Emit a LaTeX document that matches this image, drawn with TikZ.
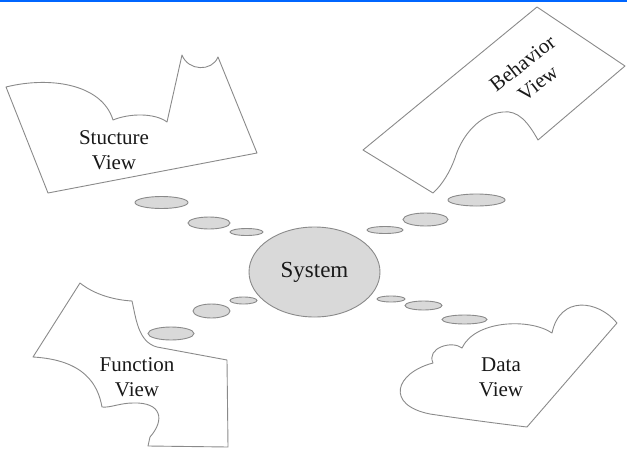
\documentclass[tikz,border=0pt]{standalone}
\usepackage{fontspec}
\setmainfont{Liberation Serif}
\usetikzlibrary{shapes.geometric}
\definecolor{edgegray}{HTML}{8A8A8A}
\definecolor{bubblefill}{HTML}{D9D9D9}
\definecolor{topblue}{HTML}{0066FF}
\tikzset{
  viewshape/.style={draw=edgegray, line width=0.9pt, line join=round},
  viewtext/.style={align=center, font=\fontsize{21}{25}\selectfont, text=black!90},
  bubble/.style={ellipse, draw=edgegray, fill=bubblefill, line width=0.9pt, inner sep=0pt},
}
\newcommand{\bub}[5]{\node[bubble, minimum width=#4pt, minimum height=#5pt] (#1) at (#2,#3) {};}
\begin{document}
\begin{tikzpicture}[x=1pt, y=-1pt]
  \useasboundingbox (0,0) rectangle (627,450);
  % top rule
  \fill[topblue] (0,0) rectangle (627,1.6);

  % Structure view
  \draw[viewshape] (6,87) .. controls (50,76) and (102,84) .. (113,120)
    .. controls (130,113) and (155,113) .. (167,122)
    -- (182,55) .. controls (188,71) and (212,72) .. (218,57)
    -- (257,153) -- (48,193) -- cycle;
  \node[viewtext] (structure) at (114,150) {Stucture\\View};

  % Behavior view
  \draw[viewshape] (363,150) -- (537,7) -- (625,66) -- (538,140)
    .. controls (528,122) and (518,110) .. (503,112)
    .. controls (480,114) and (462,135) .. (455,158)
    .. controls (450,172) and (442,185) .. (433,193) -- cycle;
  \node[viewtext, rotate=38] (behavior) at (530,73) {Behavior\\View};

  % Function view
  \draw[viewshape] (80,283) .. controls (95,295) and (115,300) .. (132,301)
    .. controls (136,318) and (138,342) .. (157,347)
    -- (227,360) -- (228,447) -- (148,446) -- (150,437)
    .. controls (165,420) and (162,402) .. (133,403)
    .. controls (120,403) and (110,408) .. (102,407)
    .. controls (98,385) and (85,360) .. (33,357) -- cycle;
  \node[viewtext] (function) at (137,377) {Function\\View};

  % Data view
  \draw[viewshape] (527,427) -- (617,323)
    .. controls (598,300) and (560,295) .. (552,333)
    .. controls (530,318) and (475,320) .. (462,348)
    .. controls (452,340) and (426,348) .. (433,363)
    .. controls (395,373) and (385,405) .. (430,414)
    .. controls (470,420) and (510,425) .. cycle;
  \node[viewtext] (data) at (501,377) {Data\\View};

  % central system
  \node[ellipse, draw=edgegray, fill=bubblefill, line width=0.9pt,
        minimum width=131pt, minimum height=90pt, inner sep=0pt,
        font=\fontsize{23}{26}\selectfont, text=black!90] (system) at (314.5,272) {System};

  % stepping-stone bubbles toward each view
  \bub{s1}{161.5}{202.5}{53}{12}
  \bub{s2}{209}{223}{42}{12}
  \bub{s3}{246.5}{232}{33}{7}
  \bub{b1}{385}{230}{36}{7}
  \bub{b2}{425.5}{219.5}{45}{13}
  \bub{b3}{476.5}{200}{57}{12}
  \bub{f1}{243.5}{300.5}{27}{7}
  \bub{f2}{211.5}{311}{37}{14}
  \bub{f3}{171}{333.5}{46}{13}
  \bub{d1}{391}{299}{28}{6}
  \bub{d2}{423.5}{305.5}{37}{9}
  \bub{d3}{464.5}{319.5}{45}{9}
\end{tikzpicture}
\end{document}
